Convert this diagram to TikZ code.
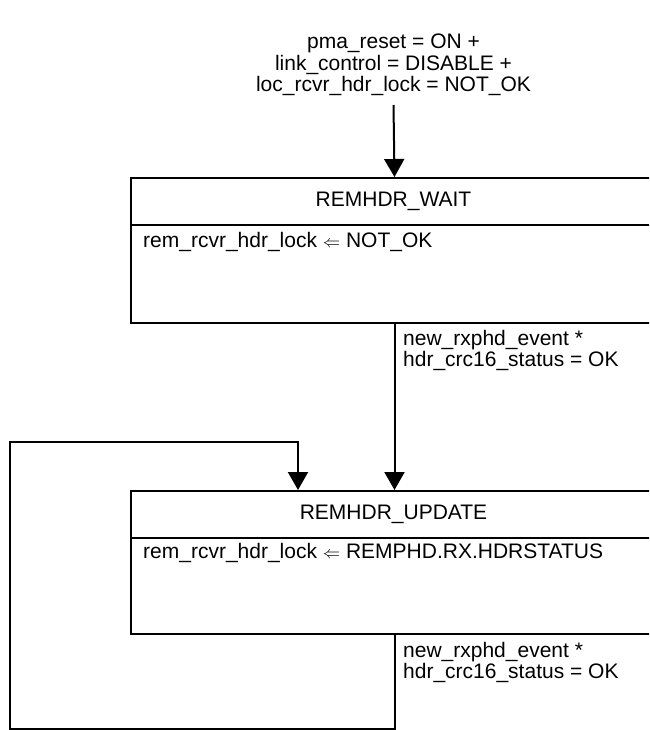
\documentclass[tikz,border=0pt]{standalone}
\usepackage{fontspec}
\setmainfont{Liberation Sans}
\usetikzlibrary{arrows.meta,calc}
\newcommand{\lar}{{\fontsize{19}{19}\selectfont$\Leftarrow$}}
\begin{document}
\begin{tikzpicture}[x=1pt,y=-1pt,
  every node/.style={font=\fontsize{21}{21.5}\selectfont, inner sep=0pt},
  statebox/.style={draw, line width=2pt, rectangle, minimum width=527pt, anchor=north west},
  arr/.style={line width=2pt, -{Triangle[length=18pt,width=20pt]}},
  wire/.style={line width=2pt},
  lbl/.style={align=left, anchor=north west}]
\useasboundingbox (0,0) rectangle (649,730);
\clip (0,0) rectangle (649,730);
% title condition
\node[align=center, anchor=north] (title) at (393.5,34)
  {pma\_reset = ON +\\link\_control = DISABLE +\\loc\_rcvr\_hdr\_lock = NOT\_OK};
% state REMHDR_WAIT
\node[statebox, minimum height=145pt] (wait) at (130,177) {};
\draw[wire] ($(wait.north west)+(0,48)$) coordinate (wd1) -- (wd1 -| wait.east);
\node (waitname) at (393.5,201) {REMHDR\_WAIT};
\node[anchor=west] (waitact) at (143,242) {rem\_rcvr\_hdr\_lock \lar{} NOT\_OK};
% state REMHDR_UPDATE
\node[statebox, minimum height=143pt] (upd) at (130,490) {};
\draw[wire] ($(upd.north west)+(0,48)$) coordinate (ud1) -- (ud1 -| upd.east);
\node (updname) at (393.5,514) {REMHDR\_UPDATE};
\node[anchor=west] (updact) at (143,553) {rem\_rcvr\_hdr\_lock \lar{} REMPHD.RX.HDRSTATUS};
% transitions
\coordinate (tstart) at (393.5,105);
\draw[arr] (tstart) -- (wait.north);
\draw[arr] (wait.south) -- (upd.north);
\node[lbl] (lab1) at (403,330) {new\_rxphd\_event *\\hdr\_crc16\_status = OK};
\coordinate (c1) at (10,729);
\coordinate (c2) at (298,442);
\draw[arr] (upd.south) |- (c1) |- (c2) -- (c2 |- upd.north);
\node[lbl] (lab2) at (403,642) {new\_rxphd\_event *\\hdr\_crc16\_status = OK};
\end{tikzpicture}
\end{document}
